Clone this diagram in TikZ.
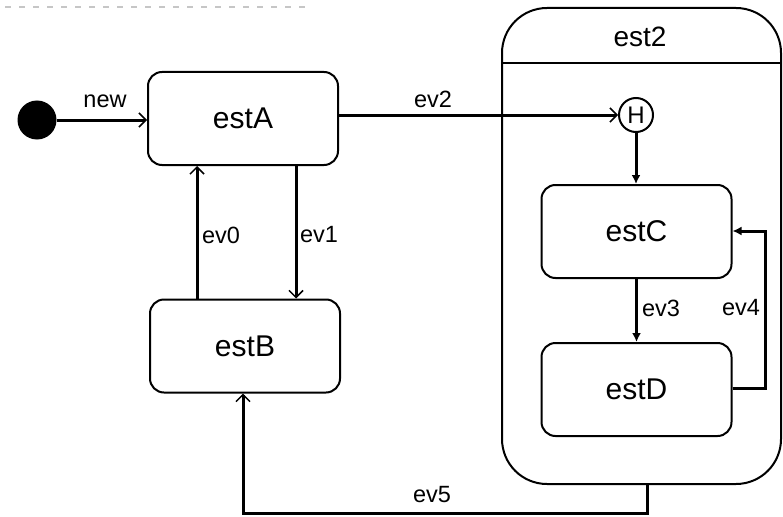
\documentclass[tikz,border=0pt]{standalone}
\usepackage{fontspec}
\setmainfont{Liberation Sans}
\usetikzlibrary{arrows.meta}
\begin{document}
\begin{tikzpicture}[x=1pt,y=-1pt,
  stbox/.style={draw, rounded corners=14pt, minimum width=190pt, minimum height=93pt, line width=2pt, font=\fontsize{30}{33}\selectfont, inner sep=0pt},
  lbl/.style={font=\fontsize{23.5}{26}\selectfont, inner sep=0pt},
  openarr/.style={line width=3pt, -{Straight Barb[length=7pt,width=14pt,line width=1.5pt]}},
  fillarr/.style={line width=3pt, -{Latex[length=9pt,width=9pt]}}]
\useasboundingbox (0,0) rectangle (783,516);
% faint remnant at top
\draw[gray!45, line width=2pt, dash pattern=on 6pt off 8pt] (5,7) -- (305,7);
% composite state
\node[draw, rounded corners=45pt, minimum width=279pt, minimum height=476pt, line width=2pt, inner sep=0pt] (est2) at (641.5,246) {};
\coordinate (hl) at (502,63);
\coordinate (hr) at (781,63);
\draw[line width=2pt] (hl) -- (hr);
\node[lbl, font=\fontsize{28}{30}\selectfont] (t2) at (640,37) {est2};
% states
\node[stbox] (estA) at (243,118.5) {estA};
\node[stbox] (estB) at (245,346) {estB};
\node[stbox] (estC) at (636.5,231.5) {estC};
\node[stbox] (estD) at (636.5,389.5) {estD};
\node[draw, circle, minimum size=34pt, inner sep=0pt, line width=2pt, font=\fontsize{24}{26}\selectfont] (H) at (636,115) {H};
\node[circle, fill=black, minimum size=39pt, inner sep=0pt] (init) at (37,120) {};
% transitions
\draw[openarr] (init.east) -- (estA.west |- init.east);
\node[lbl] (lnew) at (105,101) {new};
\draw[openarr] (estA.east |- H) -- (H.west);
\node[lbl] (lev2) at (433,99) {ev2};
\draw[fillarr] (H.south) -- (H.south |- estC.north);
\coordinate (x0) at (197,0);
\coordinate (x1) at (296,0);
\draw[openarr] (x0 |- estB.north) -- (x0 |- estA.south);
\node[lbl] (lev0) at (221,235) {ev0};
\draw[openarr] (x1 |- estA.south) -- (x1 |- estB.north);
\node[lbl] (lev1) at (319,235) {ev1};
\draw[fillarr] (estC.south) -- (estD.north);
\node[lbl] (lev3) at (661,308) {ev3};
\coordinate (r4a) at (765,388);
\coordinate (r4b) at (765,231);
\draw[fillarr] (estD.east |- r4a) -- (r4a) -- (r4b) -- (estC.east |- r4b);
\node[lbl] (lev4) at (741,308) {ev4};
\coordinate (b5a) at (647,513);
\coordinate (b5b) at (243,513);
\draw[openarr] (est2.south -| b5a) -- (b5a) -- (b5b) -- (b5b |- estB.south);
\node[lbl] (lev5) at (432,495) {ev5};
\end{tikzpicture}
\end{document}
